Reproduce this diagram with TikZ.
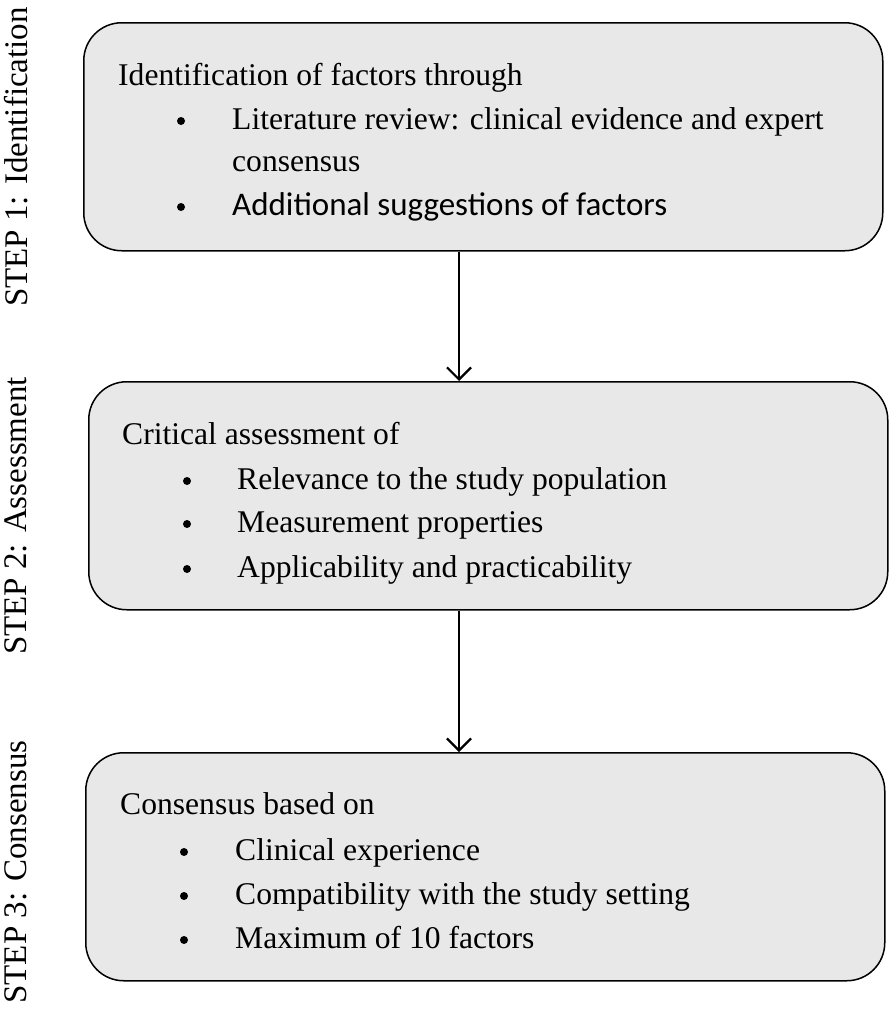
\documentclass[tikz,border=0pt]{standalone}
\usepackage{fontspec}
\setmainfont{Liberation Serif}
\newfontfamily\carl{Carlito}
\usetikzlibrary{arrows.meta}
\begin{document}
\begin{tikzpicture}[x=1pt,y=-1pt,
  stepbox/.style={draw=black,line width=1.5pt,fill=gray!18,rounded corners=38pt},
  txt/.style={anchor=base west,inner sep=0,font=\fontsize{31.6}{34}\selectfont},
  bul/.style={circle,fill=black,inner sep=0,minimum size=8pt},
  side/.style={rotate=90,anchor=center,inner sep=0,font=\fontsize{33}{36}\selectfont},
  arr/.style={line width=2.2pt,-{Straight Barb[length=12pt,width=24pt,line width=2.2pt]}}]
\useasboundingbox (0,0) rectangle (889,1009);
\node[stepbox,minimum width=799pt,minimum height=228pt,anchor=north west] (b1) at (83,22) {};
\node[stepbox,minimum width=799pt,minimum height=228pt,anchor=north west] (b2) at (88,381) {};
\node[stepbox,minimum width=799pt,minimum height=228pt,anchor=north west] (b3) at (85,752) {};
\draw[arr] (b1.south -| 459,0) -- (b2.north -| 459,0);
\draw[arr] (b2.south -| 459,0) -- (b3.north -| 459,0);
\node[side] (s1) at (16,157) {STEP 1: Identification};
\node[side] (s2) at (16,516) {STEP 2: Assessment};
\node[side] (s3) at (16,872) {STEP 3: Consensus};
% box 1
\node[txt] (t11) at (118,85) {Identification of factors through};
\node[bul] (u12) at (181,121) {};
\node[txt] (t12) at (232,129) {Literature review: clinical evidence and expert};
\node[txt] (t12b) at (232,171) {consensus};
\node[bul] (u13) at (181,207) {};
\node[txt,font=\carl\fontsize{33}{36}\selectfont] (t13) at (232,215) {Additional suggestions of factors};
% box 2
\node[txt] (t21) at (122,444) {Critical assessment of};
\node[bul] (u22) at (187,481) {};
\node[txt] (t22) at (237,489) {Relevance to the study population};
\node[bul] (u23) at (187,524) {};
\node[txt] (t23) at (237,532) {Measurement properties};
\node[bul] (u24) at (187,569) {};
\node[txt] (t24) at (237,577) {Applicability and practicability};
% box 3
\node[txt] (t31) at (120,814) {Consensus based on};
\node[bul] (u32) at (184,852) {};
\node[txt] (t32) at (235,860) {Clinical experience};
\node[bul] (u33) at (184,896) {};
\node[txt] (t33) at (235,904) {Compatibility with the study setting};
\node[bul] (u34) at (184,940) {};
\node[txt] (t34) at (235,948) {Maximum of 10 factors};
\end{tikzpicture}
\end{document}
